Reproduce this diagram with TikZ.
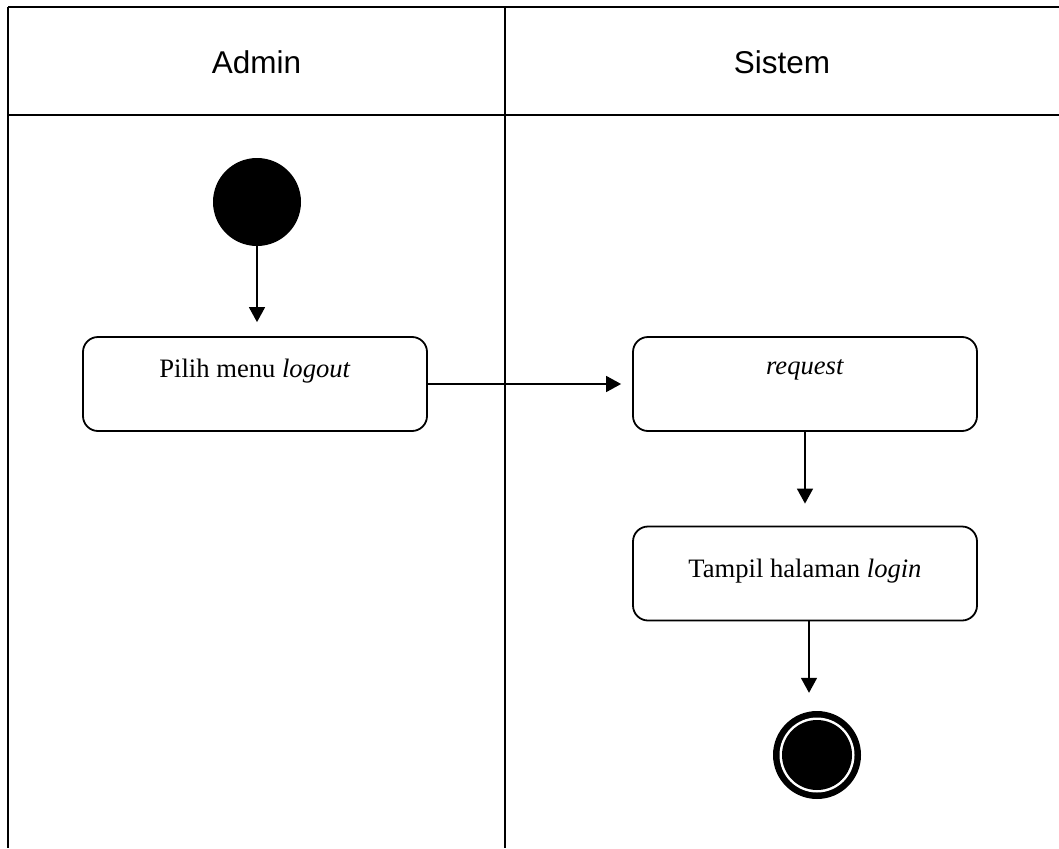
\documentclass[tikz,border=0pt]{standalone}
\usepackage{fontspec}
\setmainfont{Liberation Serif}
\newfontfamily\hdrfont{Liberation Sans}
\usetikzlibrary{arrows.meta}

\tikzset{
  lane/.style={line width=1.5pt, black},
  actbox/.style={draw, line width=1.8pt, rounded corners=15pt, minimum width=344pt,
    minimum height=94pt, inner sep=0pt},
  acttext/.style={font=\fontsize{26.6}{32}\selectfont, inner sep=0pt},
  hdr/.style={font=\hdrfont\fontsize{31.5}{38}\selectfont, inner sep=0pt},
  flow/.style={line width=1.6pt, -{Triangle[length=15pt,width=16pt]}},
  initial/.style={circle, fill=black, minimum size=88pt, inner sep=0pt},
  final/.style={circle, fill=black, minimum size=88pt, inner sep=0pt}
}

\begin{document}
\begin{tikzpicture}[x=1pt, y=-1pt]
  \useasboundingbox (0,0) rectangle (1059,848);

  % swimlane frame
  \draw[lane] (8,7) -- (1059,7);
  \draw[lane] (8,7) -- (8,848);
  \draw[lane] (505,7) -- (505,848);
  \draw[line width=2.4pt] (8,115) -- (1059,115);

  % lane headers
  \node[hdr] (hadmin) at (256.5,62) {Admin};
  \node[hdr] (hsistem) at (782,62) {Sistem};

  % activity nodes
  \node[initial] (start) at (257,202) {};
  \node[actbox] (a1) at (255,384) {};
  \node[acttext] (t1) at (255,371) {Pilih menu \textit{logout}};
  \node[actbox] (a2) at (805,384) {};
  \node[acttext] (t2) at (805,370) {\textit{request}};
  \node[actbox] (a3) at (805,573.5) {};
  \node[acttext] (t3) at (805,571) {Tampil halaman \textit{login}};

  % final state
  \node[final] (fin) at (817,755) {};
  \fill[white] (fin.center) circle (37.5pt);
  \fill[black] (fin.center) circle (35pt);

  % control flow
  \draw[flow, shorten >=14pt] (start.south) -- (start.south |- a1.north);
  \draw[flow, shorten >=11pt] (a1.east) -- (a2.west);
  \draw[flow, shorten >=22pt] (a2.south) -- (a3.north);
  \coordinate (a3out) at ([xshift=4pt]a3.south);
  \draw[flow, shorten >=18pt] (a3out) -- (a3out |- fin.north);
\end{tikzpicture}
\end{document}
